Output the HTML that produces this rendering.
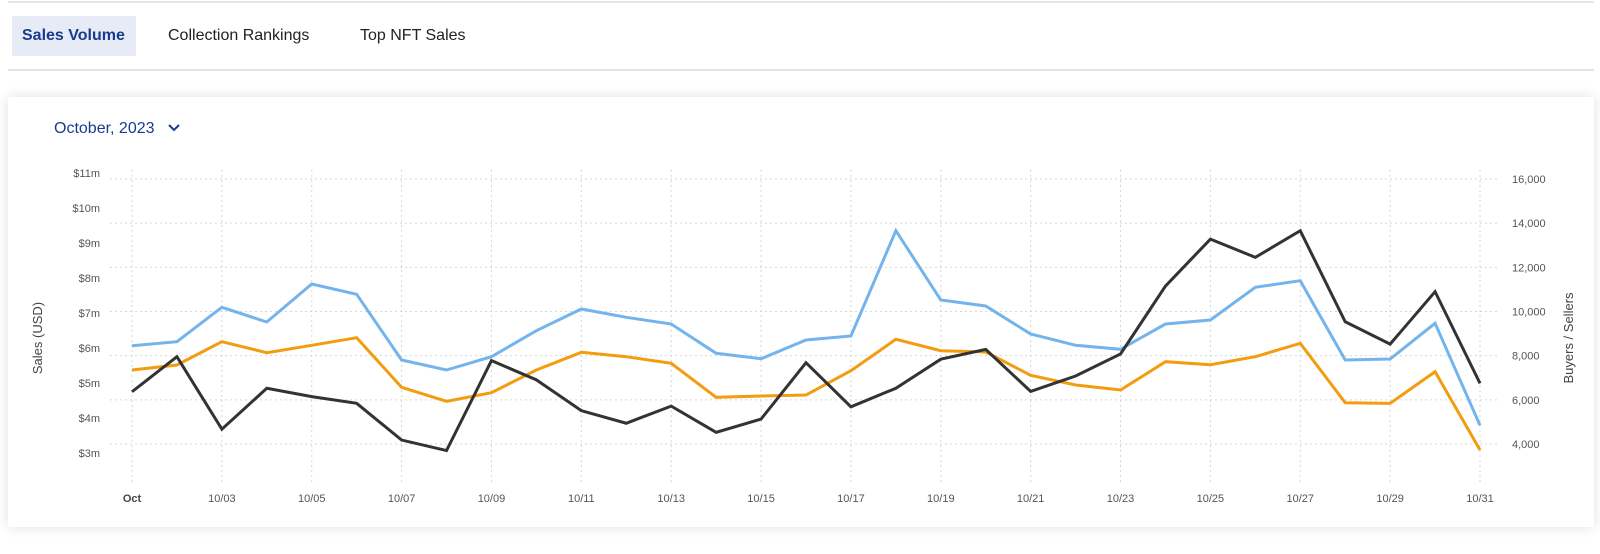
<!DOCTYPE html>
<html><head><meta charset="utf-8"><style>
body{margin:0;width:1600px;height:554px;background:#fff;font-family:"Liberation Sans",sans-serif;position:relative;overflow:hidden}
.abs{position:absolute}
.tab{position:absolute;top:16px;height:40px;line-height:40px;font-size:16px;color:#222;padding:0 10px}
</style></head><body>
<div class="abs" style="left:8px;top:1px;width:1586px;height:2px;background:#e6e6e6"></div>
<div class="tab" style="left:12px;width:104px;background:#e6ebf5;color:#1a3a8f;font-weight:bold">Sales Volume</div>
<div class="tab" style="left:158px">Collection Rankings</div>
<div class="tab" style="left:350px">Top NFT Sales</div>
<div class="abs" style="left:8px;top:69px;width:1586px;height:2px;background:#e3e3e3"></div>
<div class="abs" style="left:8px;top:97px;width:1586px;height:430px;background:#fff;box-shadow:0 0 12px rgba(0,0,0,0.12)"></div>
<div class="abs" style="left:54px;top:118px;font-size:16px;color:#1a3a8f;line-height:22px">October, 2023 <svg width="14" height="10" style="margin-left:8px" viewBox="0 0 14 10"><path d="M2 2 L7 7 L12 2" stroke="#1a3a8f" stroke-width="2" fill="none"/></svg></div>
<svg id="chart" class="abs" style="left:0;top:0" width="1600" height="554"></svg>
<script>
const days=["Oct","10/02","10/03","10/04","10/05","10/06","10/07","10/08","10/09","10/10","10/11","10/12","10/13","10/14","10/15","10/16","10/17","10/18","10/19","10/20","10/21","10/22","10/23","10/24","10/25","10/26","10/27","10/28","10/29","10/30","10/31"];
const salesM=[4.75,5.75,3.68,4.85,4.61,4.42,3.37,3.07,5.64,5.09,4.21,3.85,4.34,3.59,3.97,5.58,4.32,4.85,5.68,5.96,4.76,5.2,5.83,7.77,9.11,8.59,9.35,6.75,6.11,7.61,4.99];
const buyers=[8452,8633,10191,9525,11246,10779,7804,7351,7954,9131,10114,9738,9434,8108,7863,8710,8891,13659,10521,10250,8982,8470,8289,9434,9615,11096,11395,7804,7850,9466,4847];
const sellers=[7351,7578,8633,8135,8470,8814,6568,5934,6324,7351,8153,7954,7655,6115,6174,6219,7320,8742,8225,8167,7111,6672,6446,7727,7591,7954,8560,5871,5843,7274,3729];
const leftTicks=[11,10,9,8,7,6,5,4,3];
const rightTicks=[16000,14000,12000,10000,8000,6000,4000];
const NS="http://www.w3.org/2000/svg",svg=document.getElementById("chart");
const X=i=>132+i*(1348/30);
const YL=v=>173+(11-v)*35;
const YR=v=>179+(16000-v)*44.17/2000;
function mk(tag,attrs){const e=document.createElementNS(NS,tag);for(const k in attrs)e.setAttribute(k,attrs[k]);svg.appendChild(e);return e;}
rightTicks.forEach(v=>{
 const g=mk("line",{x1:110,x2:1500,y1:YR(v),y2:YR(v),stroke:"#d6d6d6","stroke-dasharray":"2,3"});
 
 
 const t=mk("text",{x:1512,y:YR(v)+4,"font-size":11,fill:"#555"});t.textContent=v.toLocaleString("en-US");
 
 
});
leftTicks.forEach(v=>{
 const t=mk("text",{x:100,y:YL(v)+4,"font-size":11,fill:"#555","text-anchor":"end"});t.textContent="$"+v+"m";
 
 
});
days.forEach((d,i)=>{
 if(i%2)return;
 const g=mk("line",{x1:X(i),x2:X(i),y1:170,y2:483,stroke:"#d6d6d6","stroke-dasharray":"2,3"});
 
 
 const t=mk("text",{x:X(i),y:502,"font-size":11,fill:"#555","text-anchor":"middle"});t.textContent=d;
 if(i===0){t.setAttribute("font-weight","bold");t.setAttribute("fill","#444");}
 
 
});
function line(arr,Y,color,name){
 const p=mk("polyline",{points:arr.map((v,i)=>X(i)+","+Y(v)).join(" "),fill:"none",stroke:color,"stroke-width":3,"stroke-linejoin":"miter"});
 
 
}
line(sellers,YR,"#f39c0f","sellers-line");
line(buyers,YR,"#74b4ec","buyers-line");
line(salesM,YL,"#333333","sales-line");
const t1=mk("text",{x:0,y:0,"font-size":13,fill:"#444","text-anchor":"middle",transform:"translate(42,338) rotate(-90)"});t1.textContent="Sales (USD)";


const t2=mk("text",{x:0,y:0,"font-size":13,fill:"#444","text-anchor":"middle",transform:"translate(1573,338) rotate(-90)"});t2.textContent="Buyers / Sellers";


</script>
</body></html>
